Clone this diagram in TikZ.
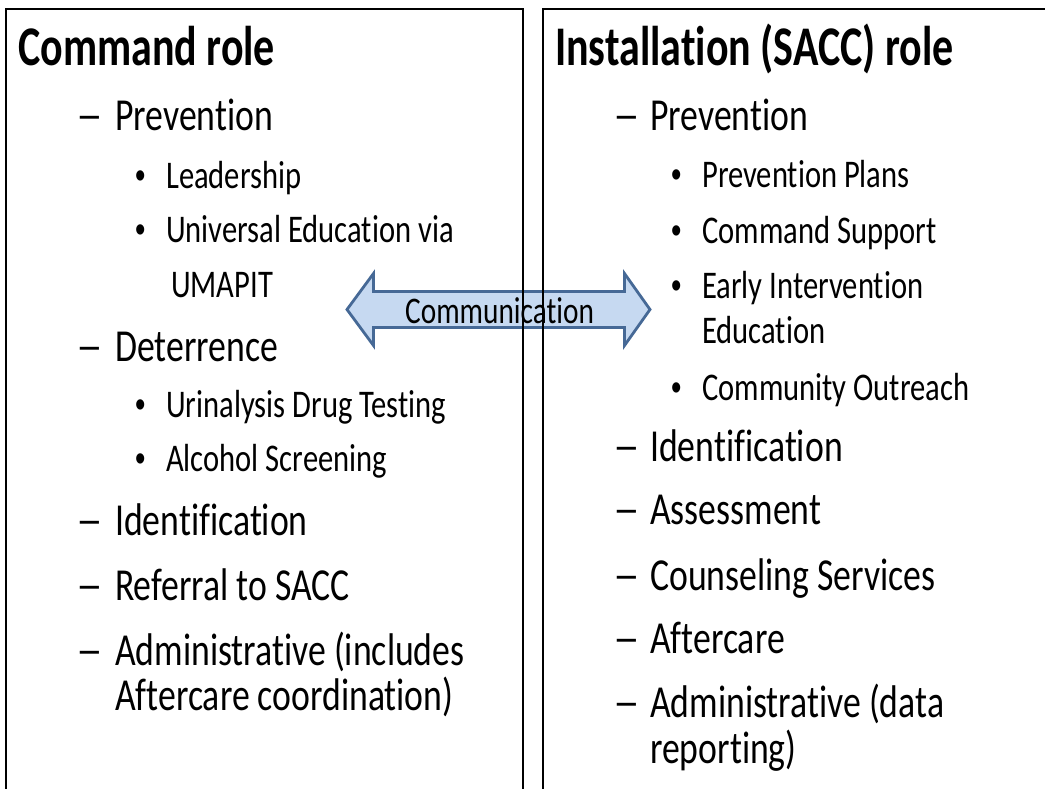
\documentclass[tikz,border=0pt]{standalone}
\usepackage{fontspec}
\setmainfont{Carlito}[FakeStretch=0.78, Ligatures=NoCommon]
\newfontfamily\titlefont{Carlito}[FakeStretch=0.75, Ligatures=NoCommon]
\newfontfamily\bulfont{Liberation Sans}[FakeStretch=0.78]
\definecolor{arrowfill}{RGB}{198,217,241}
\definecolor{arrowline}{RGB}{70,105,150}
\begin{document}
\begin{tikzpicture}[x=1pt,y=-1pt,
  ttl/.style={anchor=base west, inner sep=0pt, font=\titlefont\bfseries\fontsize{56}{60}\selectfont},
  lvone/.style={anchor=base west, inner sep=0pt, font=\fontsize{45.8}{50}\selectfont},
  dashmark/.style={anchor=base west, inner sep=0pt, font=\fontsize{45.8}{50}\selectfont, xscale=1.5},
  lvtwo/.style={anchor=base west, inner sep=0pt, font=\fontsize{39.2}{44}\selectfont},
  bulmark/.style={anchor=base west, inner sep=0pt, font=\bulfont\fontsize{38}{44}\selectfont},
  commtext/.style={anchor=base west, inner sep=0pt, font=\fontsize{37.6}{44}\selectfont},
  panel/.style={draw=black, line width=2pt},
  bigarrow/.style={draw=arrowline, fill=arrowfill, line width=2.8pt, line join=miter}]
\useasboundingbox (0,0) rectangle (1045,788);
\clip (0,0) rectangle (1045,788);
% communication arrow
\coordinate (ltip) at (347,309.5);
\coordinate (rtip) at (650,309.5);
\draw[bigarrow] (ltip) -- (373.5,273.5) -- (373.5,291.5) -- (624.5,291.5) -- (624.5,273.5)
  -- (rtip) -- (624.5,345.5) -- (624.5,327.5) -- (373.5,327.5) -- (373.5,345.5) -- cycle;
\node[commtext] (comm) at (405,323) {Communication};
% panels
\draw[panel] (6,9) rectangle (523,820);
\draw[panel] (543,9) rectangle (1060,820);
% left column
\node[ttl] (cmdtitle) at (18,65) {Command role};
\node[dashmark] (ld1) at (76,130) {–};
\node[lvone] (lprev) at (115,130) {Prevention};
\node[bulmark] (lb1) at (135,188) {•};
\node[lvtwo] (llead) at (166,188) {Leadership};
\node[bulmark] (lb2) at (135,242) {•};
\node[lvtwo] (luniv) at (166,242) {Universal Education via};
\node[lvtwo] (lumap) at (171,297) {UMAPIT};
\node[dashmark] (ld2) at (76,361) {–};
\node[lvone] (ldet) at (115,361) {Deterrence};
\node[bulmark] (lb3) at (135,417) {•};
\node[lvtwo] (lurin) at (166,417) {Urinalysis Drug Testing};
\node[bulmark] (lb4) at (135,471) {•};
\node[lvtwo] (lalc) at (166,471) {Alcohol Screening};
\node[dashmark] (ld3) at (76,535) {–};
\node[lvone] (lident) at (115,535) {Identification};
\node[dashmark] (ld4) at (76,600) {–};
\node[lvone] (lref) at (115,600) {Referral to SACC};
\node[dashmark] (ld5) at (76,665) {–};
\node[lvone] (ladm) at (115,665) {Administrative (includes};
\node[lvone] (ladmb) at (115,710) {Aftercare coordination)};
% right column
\node[ttl] (insttitle) at (555,65) {Installation (SACC) role};
\node[dashmark] (rd1) at (613,130) {–};
\node[lvone] (rprev) at (650,130) {Prevention};
\node[bulmark] (rb1) at (671,187) {•};
\node[lvtwo] (rplans) at (702,187) {Prevention Plans};
\node[bulmark] (rb2) at (671,243) {•};
\node[lvtwo] (rsupp) at (702,243) {Command Support};
\node[bulmark] (rb3) at (671,298) {•};
\node[lvtwo] (rearly) at (702,298) {Early Intervention};
\node[lvtwo] (reduc) at (702,343) {Education};
\node[bulmark] (rb4) at (671,400) {•};
\node[lvtwo] (rcomm) at (702,400) {Community Outreach};
\node[dashmark] (rd2) at (613,461) {–};
\node[lvone] (rident) at (650,461) {Identification};
\node[dashmark] (rd3) at (613,524) {–};
\node[lvone] (rassess) at (650,524) {Assessment};
\node[dashmark] (rd4) at (613,590) {–};
\node[lvone] (rcouns) at (650,590) {Counseling Services};
\node[dashmark] (rd5) at (613,653) {–};
\node[lvone] (rafter) at (650,653) {Aftercare};
\node[dashmark] (rd6) at (613,717) {–};
\node[lvone] (radm) at (650,717) {Administrative (data};
\node[lvone] (radmb) at (650,763) {reporting)};
\end{tikzpicture}
\end{document}
